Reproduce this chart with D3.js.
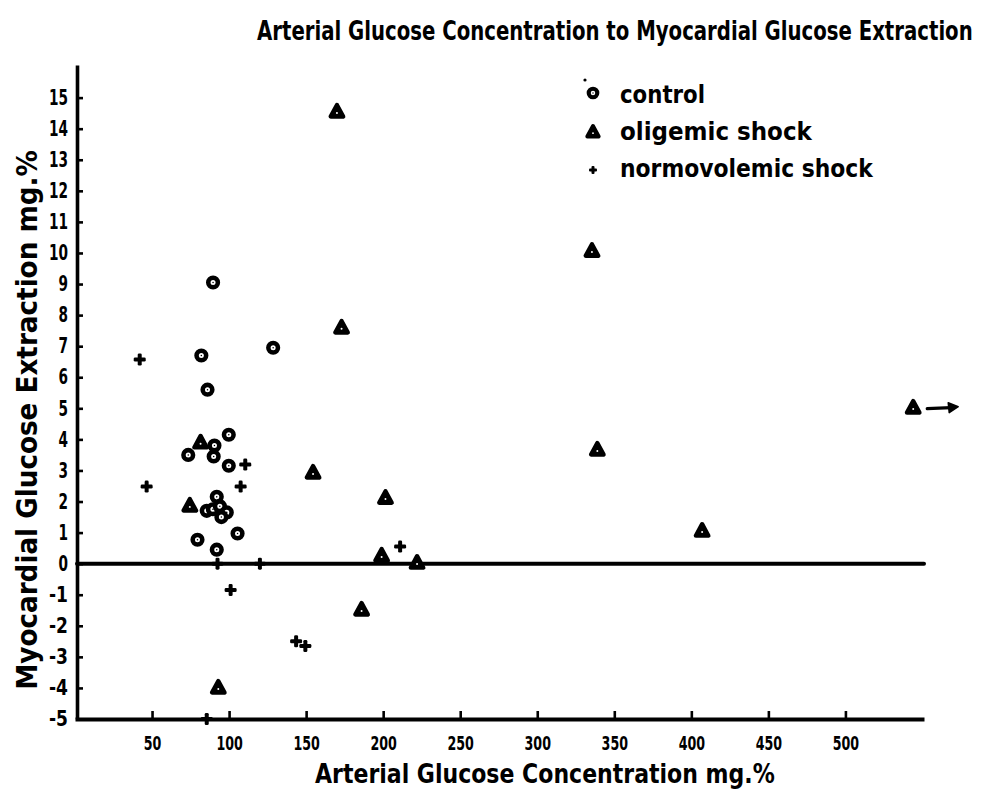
<!DOCTYPE html>
<html>
<head>
<meta charset="utf-8">
<script src="https://cdn.jsdelivr.net/npm/d3@7"></script>
<style>
  html, body { margin: 0; padding: 0; background: #fff; }
  svg { display: block; }
  text { font-family: "DejaVu Sans Condensed", "DejaVu Sans", sans-serif; font-stretch: condensed; fill: #000; }
</style>
</head>
<body>
<svg id="chart" width="981" height="790"></svg>
<script>
// ---- data ----
const title = "Arterial Glucose Concentration to Myocardial Glucose Extraction";
const xTitle = "Arterial Glucose Concentration mg.%";
const yTitle = "Myocardial Glucose Extraction mg.%";
const xTicks = [50, 100, 150, 200, 250, 300, 350, 400, 450, 500];
const yTicks = [-5,-4,-3,-2,-1,0,1,2,3,4,5,6,7,8,9,10,11,12,13,14,15];
const seriesNames = ["control", "oligemic shock", "normovolemic shock"];

const controlX = [89.6, 82, 128.6, 86, 99.8, 90.5, 73.5, 90, 99.8, 92, 85.5, 89.5, 94, 98.5, 95, 105.5, 79.5, 92];
const controlY = [9.05, 6.7, 6.95, 5.6, 4.15, 3.8, 3.5, 3.45, 3.15, 2.15, 1.7, 1.75, 1.85, 1.65, 1.5, 0.97, 0.77, 0.45];

const oligemicX = [170, 335.5, 173, 544, 339, 81.5, 154.5, 201.5, 74.5, 407, 199, 222, 186, 93];
const oligemicY = [14.55, 10.07, 7.6, 5.02, 3.67, 3.9, 2.93, 2.12, 1.87, 1.06, 0.26, 0.03, -1.48, -3.99];

const normoX = [42, 110.5, 46.5, 107.5, 211, 92.5, 120, 101, 143.5, 149.5, 85.5];
const normoY = [6.57, 3.19, 2.48, 2.48, 0.55, 0, 0, -0.85, -2.5, -2.65, -5];

// ---- scales ----
const svg = d3.select("#chart");
const x = d3.scaleLinear().domain([0, 551]).range([75, 924]);
const y = d3.scaleLinear().domain([-5, 16.05]).range([719, 65]);

// ---- axes ----
const yAxis = d3.axisLeft(y).tickValues(yTicks).tickSizeInner(-6).tickSizeOuter(0).tickPadding(9)
  .tickFormat(d => String(d));
const gy = svg.append("g").attr("transform", `translate(${x(0) + 2},0)`).call(yAxis);
gy.select(".domain").attr("stroke", "#000").attr("stroke-width", 3.6);
gy.selectAll(".tick line").attr("stroke", "#000").attr("stroke-width", 2.6);
gy.selectAll(".tick text")
  .attr("font-size", 21).attr("font-weight", "bold")
  .attr("textLength", d => String(d).length * 9.5)
  .attr("lengthAdjust", "spacingAndGlyphs");

const xAxis = d3.axisBottom(x).tickValues(xTicks).tickSizeInner(-8).tickSizeOuter(0).tickPadding(17)
  .tickFormat(d => String(d));
const gx = svg.append("g").attr("transform", `translate(0,${y(-5)})`).call(xAxis);
gx.select(".domain").attr("stroke", "#000").attr("stroke-width", 4);
gx.selectAll(".tick line").attr("stroke", "#000").attr("stroke-width", 2.6);
gx.selectAll(".tick text")
  .attr("font-size", 20).attr("font-weight", "bold")
  .attr("textLength", d => String(d).length * 8.8)
  .attr("lengthAdjust", "spacingAndGlyphs");

// zero line
svg.append("line")
  .attr("x1", x(0) + 2).attr("x2", x(551))
  .attr("y1", y(0)).attr("y2", y(0))
  .attr("stroke", "#000").attr("stroke-width", 4).attr("stroke-linecap", "round");

// ---- text fitted to a width by horizontal scaling ----
function fitText(parent, str, tx, ty, width, size, rot, anchor) {
  const t = parent.append("text")
    .attr("font-size", size).attr("font-weight", "bold")
    .attr("text-anchor", anchor || "start")
    .text(str);
  const natural = t.node().getComputedTextLength();
  const k = width / natural;
  t.attr("transform", `translate(${tx},${ty}) rotate(${rot || 0}) scale(${k},1)`);
  return t;
}

fitText(svg, title, 257, 40, 716, 26);
fitText(svg, xTitle, 315, 783, 460, 27);
fitText(svg, yTitle, 37, 420, 540, 28, -90, "middle");

// ---- marker drawers ----
function drawCircle(g, cx, cy, r) {
  g.append("circle").attr("cx", cx).attr("cy", cy).attr("r", r)
    .attr("fill", "#fff").attr("stroke", "#000").attr("stroke-width", r * 0.95);
  g.append("circle").attr("cx", cx).attr("cy", cy).attr("r", r * 0.16).attr("fill", "#000");
}
function drawTri(g, cx, cy, s) {
  g.append("path")
    .attr("d", `M${cx},${cy - s} L${cx + s * 0.95},${cy + s * 0.75} L${cx - s * 0.95},${cy + s * 0.75} Z`)
    .attr("fill", "#000").attr("stroke", "#000").attr("stroke-width", s * 0.65)
    .attr("stroke-linejoin", "round");
  g.append("circle").attr("cx", cx).attr("cy", cy + s * 0.2).attr("r", s * 0.15).attr("fill", "#fff");
}
function drawPlus(g, cx, cy, s, w) {
  g.append("rect").attr("x", cx - s).attr("y", cy - w / 2).attr("width", 2 * s).attr("height", w)
    .attr("rx", w / 3).attr("fill", "#000");
  g.append("rect").attr("x", cx - w / 2).attr("y", cy - s).attr("width", w).attr("height", 2 * s)
    .attr("rx", w / 3).attr("fill", "#000");
}

// ---- points ----
const pts = svg.append("g");
normoX.forEach((v, i) => drawPlus(pts, x(v), y(normoY[i]), 6, 4));
oligemicX.forEach((v, i) => drawTri(pts, x(v), y(oligemicY[i]), 6.6));
controlX.forEach((v, i) => drawCircle(pts, x(v), y(controlY[i]), 4.8));

// arrow next to the off-scale oligemic point
const ai = oligemicX.indexOf(d3.max(oligemicX));
const ax = x(oligemicX[ai]), ay = y(oligemicY[ai]);
svg.append("line").attr("x1", ax + 14).attr("y1", ay + 1).attr("x2", ax + 38).attr("y2", ay)
  .attr("stroke", "#000").attr("stroke-width", 3.2).attr("stroke-linecap", "round");
svg.append("path").attr("d", `M${ax + 35},${ay - 5} L${ax + 45},${ay - 1} L${ax + 36},${ay + 5} Z`)
  .attr("fill", "#000").attr("stroke", "#000").attr("stroke-width", 1.5).attr("stroke-linejoin", "round");

// ---- legend ----
const lg = svg.append("g");
const legX = 593, legY = [93, 132, 170], legBase = [103, 140, 177], legLen = [85, 192, 253];
drawCircle(lg, legX, legY[0], 4.3);
lg.append("circle").attr("cx", legX - 8).attr("cy", legY[0] - 13).attr("r", 1.6).attr("fill", "#000");
drawTri(lg, legX, legY[1], 6);
drawPlus(lg, legX, legY[2], 4, 3);
seriesNames.forEach((n, i) => fitText(lg, n, 620, legBase[i], legLen[i], 25));
</script>
</body>
</html>
